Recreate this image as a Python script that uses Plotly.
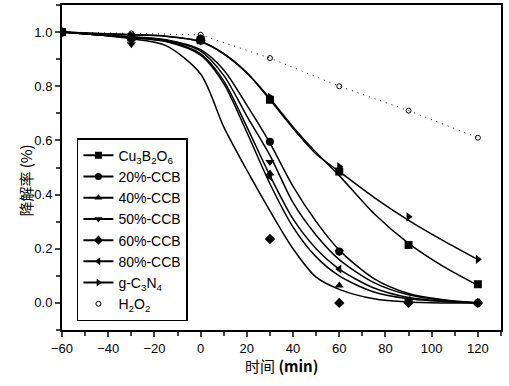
import plotly.graph_objects as go

# measured time points (min)
t_pts = [-60, -30, 0, 30, 60, 90, 120]
# measured degradation ratios
cu_pts   = [1.0, 0.98, 0.97, 0.75, 0.485, 0.214, 0.069]
c20_pts  = [1.0, 0.985, 0.975, 0.595, 0.19, 0.005, 0.0]
c40_pts  = [1.0, 0.985, 0.97, 0.478, 0.064, 0.005, 0.0]
c50_pts  = [1.0, 0.955, 0.97, 0.52, 0.187, 0.005, 0.0]
c60_pts  = [1.0, 0.975, 0.97, 0.236, 0.0, 0.0, 0.0]
c80_pts  = [1.0, 0.98, 0.97, 0.466, 0.125, 0.01, 0.0]
gcn_pts  = [1.0, 0.985, 0.975, 0.76, 0.503, 0.318, 0.161]
h2o2_pts = [1.0, 0.995, 0.99, 0.904, 0.80, 0.71, 0.61]

# fitted curves at these times
t_fit = [-60, -45, -30, -15, 0, 10, 20, 30, 40, 50, 60, 75, 90, 105, 120]
cu_fit  = [1.0, 0.995, 0.99, 0.985, 0.965, 0.92, 0.85, 0.755, 0.65, 0.555, 0.47, 0.33, 0.22, 0.135, 0.065]
c20_fit = [1.0, 0.99, 0.983, 0.972, 0.935, 0.86, 0.73, 0.59, 0.43, 0.30, 0.195, 0.09, 0.035, 0.012, 0.0]
c40_fit = [1.0, 0.99, 0.98, 0.965, 0.915, 0.81, 0.63, 0.44, 0.28, 0.17, 0.10, 0.04, 0.015, 0.005, 0.0]
c50_fit = [1.0, 0.99, 0.982, 0.97, 0.93, 0.84, 0.69, 0.545, 0.37, 0.25, 0.16, 0.075, 0.03, 0.01, 0.0]
c60_fit = [1.0, 0.99, 0.975, 0.95, 0.845, 0.65, 0.49, 0.34, 0.20, 0.095, 0.05, 0.015, 0.003, 0.0, 0.0]
c80_fit = [1.0, 0.99, 0.98, 0.967, 0.92, 0.82, 0.65, 0.47, 0.31, 0.20, 0.125, 0.055, 0.02, 0.007, 0.0]
gcn_fit = [1.0, 0.995, 0.99, 0.985, 0.965, 0.92, 0.85, 0.75, 0.645, 0.55, 0.485, 0.39, 0.305, 0.23, 0.16]

x_ticks = [-60, -40, -20, 0, 20, 40, 60, 80, 100, 120]
y_ticks = [0.0, 0.2, 0.4, 0.6, 0.8, 1.0]
y_ticktext = ["0.0", "0.2", "0.4", "0.6", "0.8", "1.0"]

names = ["Cu<sub>3</sub>B<sub>2</sub>O<sub>6</sub>", "20%-CCB", "40%-CCB", "50%-CCB",
         "60%-CCB", "80%-CCB", "g-C<sub>3</sub>N<sub>4</sub>"]
symbols = ["square", "circle", "triangle-up", "triangle-down", "diamond",
           "triangle-left", "triangle-right"]
pts = [cu_pts, c20_pts, c40_pts, c50_pts, c60_pts, c80_pts, gcn_pts]
fits = [cu_fit, c20_fit, c40_fit, c50_fit, c60_fit, c80_fit, gcn_fit]

fig = go.Figure()
for nm, sym, p, f in zip(names, symbols, pts, fits):
    fig.add_trace(go.Scatter(x=t_fit, y=f, mode="lines",
                             line=dict(color="black", width=1.5, shape="spline", smoothing=0.8),
                             showlegend=False, hoverinfo="skip"))
    fig.add_trace(go.Scatter(x=t_pts, y=p, mode="markers",
                             marker=dict(symbol=sym, size=8, color="black"), showlegend=False))
fig.add_trace(go.Scatter(x=t_pts, y=h2o2_pts, mode="lines+markers",
                         line=dict(color="black", width=1, dash="1px,5px"),
                         marker=dict(symbol="circle-open", size=5, color="black", line=dict(width=1)),
                         showlegend=False))
# legend entries
for nm, sym in zip(names, symbols):
    fig.add_trace(go.Scatter(x=[None], y=[None], mode="lines+markers", name=nm,
                             line=dict(color="black", width=2),
                             marker=dict(symbol=sym, size=7, color="black")))
fig.add_trace(go.Scatter(x=[None], y=[None], mode="markers", name="H<sub>2</sub>O<sub>2</sub>",
                         marker=dict(symbol="circle-open", size=5, color="black")))

font = "Liberation Sans, Arial, sans-serif"
cjk = "Noto Sans CJK SC, " + font
fig.update_layout(
    width=509, height=386, margin=dict(l=62, r=8, t=5, b=56, autoexpand=False),
    plot_bgcolor="white", paper_bgcolor="white",
    font=dict(family=font, size=13, color="black"),
    legend=dict(x=0.034, y=0.59, xanchor="left", yanchor="top",
                bordercolor="black", borderwidth=1.5, bgcolor="white",
                font=dict(size=14, family=font), tracegroupgap=0, itemwidth=30),
    xaxis=dict(range=[-60, 130], tickmode="array", tickvals=x_ticks,
               ticks="outside", ticklen=5, tickwidth=1.5, linecolor="black", linewidth=2,
               mirror=True, showgrid=False, zeroline=False, automargin=False,
               minor=dict(dtick=10, ticks="outside", ticklen=4, tickwidth=1.5, showgrid=False)),
    yaxis=dict(range=[-0.1, 1.1], tickmode="array", tickvals=y_ticks, ticktext=y_ticktext,
               ticks="outside", ticklen=5, tickwidth=1.5, linecolor="black", linewidth=2,
               mirror=True, showgrid=False, zeroline=False, automargin=False,
               minor=dict(dtick=0.1, ticks="outside", ticklen=4, tickwidth=1.5, showgrid=False)),
    annotations=[
        dict(text="时间 <b>(min)</b>", xref="paper", yref="paper", x=0.5, y=-0.108,
             xanchor="center", yanchor="middle", showarrow=False, font=dict(family=cjk, size=15)),
        dict(text="降解率 (%)", xref="paper", yref="paper", x=-0.084, y=0.46, textangle=-90,
             xanchor="center", yanchor="middle", showarrow=False, font=dict(family=cjk, size=15)),
    ],
)
fig.write_html("out.html", config={"displayModeBar": False},
               post_script="document.body.style.margin='0';")
